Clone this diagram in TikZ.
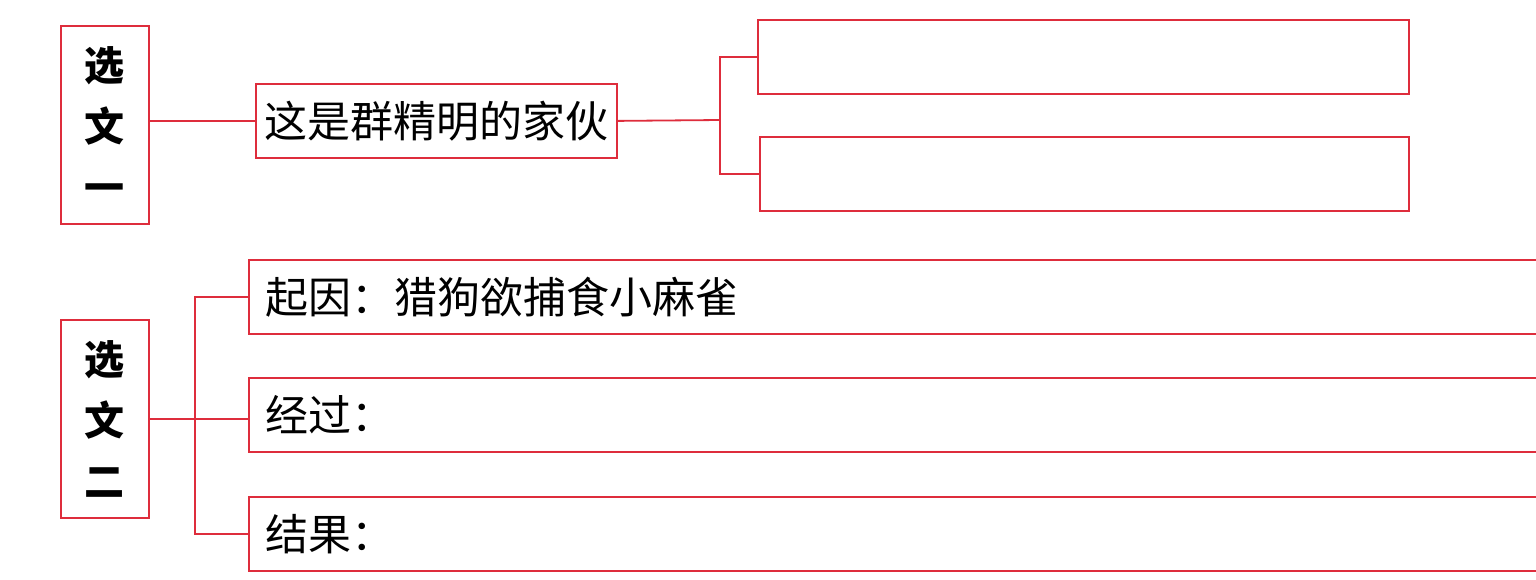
\documentclass[tikz,border=0pt]{standalone}
\usepackage{fontspec}
\newfontfamily\cjk{Noto Sans CJK SC}
\definecolor{boxred}{RGB}{222,45,60}
\begin{document}
\begin{tikzpicture}[x=1pt,y=-1pt,
  redline/.style={draw=boxred,line width=1.8pt},
  box/.style={redline,rectangle,inner sep=0pt,anchor=north west},
  sidebox/.style={box,minimum width=88pt,minimum height=198pt,align=center,
    font=\cjk\bfseries\fontsize{40}{61}\selectfont},
  txtbox/.style={box,minimum height=74pt,minimum width=361pt,
    font=\cjk\fontsize{43}{50}\selectfont},
  widebox/.style={box,minimum height=74pt,inner xsep=17pt,text width=1300pt,align=left,
    font=\cjk\fontsize{43}{50}\selectfont},
  emptybox/.style={box,minimum height=74pt}]
\clip (0,0) rectangle (1536,579);
\fill[white] (0,0) rectangle (1536,579);
% part one
\node[sidebox] (s1) at (60,25) {选\\文\\一};
\node[txtbox] (t1) at (255,83) {这是群精明的家伙};
\node[emptybox,minimum width=651pt] (a1) at (757,19) {};
\node[emptybox,minimum width=649pt] (a2) at (759,136) {};
\coordinate (j1) at (720,120);
\draw[redline] (s1.east |- t1.west) -- (t1.west);
\draw[redline] (t1.east) -- (j1);
\draw[redline] (a1.west) -| (j1) |- (a2.west);
% part two
\node[sidebox] (s2) at (60,319) {选\\文\\二};
\node[widebox] (b1) at (248,259) {起因：猎狗欲捕食小麻雀};
\node[widebox] (b2) at (248,377) {经过：};
\node[widebox] (b3) at (248,496) {结果：};
\coordinate (j2) at (195,418);
\draw[redline] (s2.east) -- (s2.east -| b2.west);
\draw[redline] (b1.west) -| (j2) |- (b3.west);
\end{tikzpicture}
\end{document}
